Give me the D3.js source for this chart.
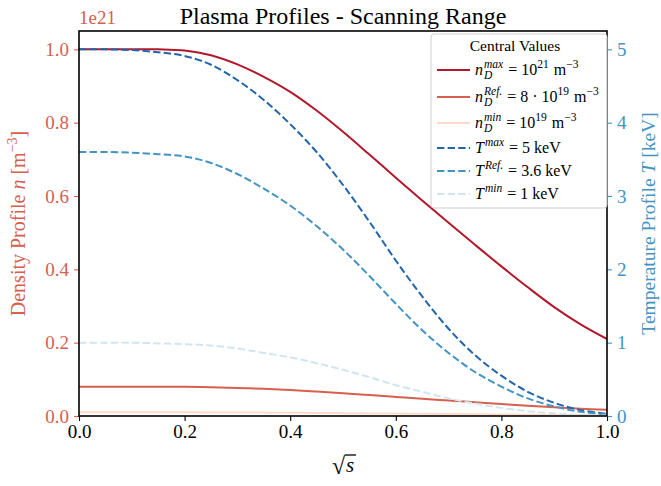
<!DOCTYPE html>
<html>
<head>
<meta charset="utf-8">
<script src="https://d3js.org/d3.v7.min.js"></script>
<style>
  body { margin: 0; background: white; }
  svg text { font-family: "Liberation Serif", "DejaVu Serif", serif; white-space: pre; }
</style>
</head>
<body>
<svg id="chart" width="661" height="486"></svg>
<script>
// sqrt(s) grid
var rho = [0, 0.05, 0.1, 0.15, 0.2, 0.25, 0.3, 0.35, 0.4, 0.45, 0.5, 0.55, 0.6, 0.65, 0.7, 0.75, 0.8, 0.85, 0.9, 0.95, 1.0];
// density profiles, units of 1e21 m^-3
var nMax = [1.0, 1.0, 1.0, 1.0, 0.997, 0.984, 0.959, 0.925, 0.884, 0.833, 0.775, 0.713, 0.65, 0.588, 0.527, 0.467, 0.408, 0.351, 0.297, 0.25, 0.21];
var nRef = [0.08, 0.08, 0.08, 0.08, 0.0798, 0.0787, 0.0767, 0.074, 0.0707, 0.0666, 0.062, 0.057, 0.052, 0.047, 0.0422, 0.0374, 0.0326, 0.0281, 0.0238, 0.02, 0.0168];
var nMin = [0.01, 0.01, 0.01, 0.01, 0.00997, 0.00984, 0.00959, 0.00925, 0.00884, 0.00833, 0.00775, 0.00713, 0.0065, 0.00588, 0.00527, 0.00467, 0.00408, 0.00351, 0.00297, 0.0025, 0.0021];
// temperature profiles, keV
var tMax = [5.0, 5.0, 4.99, 4.96, 4.91, 4.79, 4.58, 4.31, 3.98, 3.6, 3.15, 2.65, 2.12, 1.63, 1.19, 0.83, 0.55, 0.33, 0.18, 0.08, 0.03];
var tRef = [3.6, 3.6, 3.59, 3.57, 3.54, 3.45, 3.3, 3.1, 2.87, 2.59, 2.27, 1.91, 1.53, 1.17, 0.86, 0.6, 0.4, 0.24, 0.13, 0.058, 0.022];
var tMin = [1.0, 1.0, 1.0, 0.99, 0.98, 0.96, 0.92, 0.86, 0.8, 0.72, 0.63, 0.53, 0.42, 0.33, 0.24, 0.17, 0.11, 0.066, 0.036, 0.016, 0.006];

var xTicks = [0, 0.2, 0.4, 0.6, 0.8, 1.0];
var nTicks = [0, 0.2, 0.4, 0.6, 0.8, 1.0];
var tTicks = [0, 1, 2, 3, 4, 5];

var C = {nMax: "#b2182b", nRef: "#d6604d", nMin: "#fddbc7",
         tMax: "#2166ac", tRef: "#4393c3", tMin: "#d1e5f0"};

var pL = 79, pR = 607, pT = 31, pB = 416;
var svg = d3.select("#chart");

var x = d3.scaleLinear().domain([0, 1]).range([pL, pR]);
var yN = d3.scaleLinear().domain([0, 1.05]).range([pB, pT]);
var yT = d3.scaleLinear().domain([0, 5.25]).range([pB, pT]);

svg.append("clipPath").attr("id", "clip").append("rect")
  .attr("x", pL).attr("y", pT).attr("width", pR - pL).attr("height", pB - pT);

var plot = svg.append("g").attr("clip-path", "url(#clip)");

function drawLine(vals, yScale, color, dashed) {
  var line = d3.line()
    .x(function(d, i) { return x(rho[i]); })
    .y(function(d) { return yScale(d); })
    .curve(d3.curveCatmullRom.alpha(0.5));
  plot.append("path")
    .datum(vals)
    .attr("d", line)
    .attr("fill", "none")
    .attr("stroke", color)
    .attr("stroke-width", 2)
    .attr("stroke-dasharray", dashed ? "7.4,3.2" : null);
}

drawLine(nMax, yN, C.nMax, false);
drawLine(nRef, yN, C.nRef, false);
drawLine(nMin, yN, C.nMin, false);
drawLine(tMax, yT, C.tMax, true);
drawLine(tRef, yT, C.tRef, true);
drawLine(tMin, yT, C.tMin, true);

// axes
function styleAxis(g, color) {
  g.select(".domain").remove();
  g.selectAll("line").attr("stroke", color).attr("stroke-width", 1.1);
  g.selectAll("text").attr("fill", color).style("font-size", "19px")
    .style("font-family", "Liberation Serif");
}

var xAxis = svg.append("g").attr("transform", "translate(0," + pB + ")")
  .call(d3.axisBottom(x).tickValues(xTicks).tickFormat(d3.format(".1f")).tickSize(5).tickPadding(4));
styleAxis(xAxis, "#000");

var yAxisL = svg.append("g").attr("transform", "translate(" + pL + ",0)")
  .call(d3.axisLeft(yN).tickValues(nTicks).tickFormat(d3.format(".1f")).tickSize(5).tickPadding(5));
styleAxis(yAxisL, C.nRef);

var yAxisR = svg.append("g").attr("transform", "translate(" + pR + ",0)")
  .call(d3.axisRight(yT).tickValues(tTicks).tickFormat(d3.format("d")).tickSize(5).tickPadding(5));
styleAxis(yAxisR, C.tRef);

// frame
svg.append("rect").attr("x", pL).attr("y", pT)
  .attr("width", pR - pL).attr("height", pB - pT)
  .attr("fill", "none").attr("stroke", "#000").attr("stroke-width", 1.6);

// offset text
svg.append("text").attr("x", pL).attr("y", 24)
  .attr("fill", C.nRef).style("font-size", "19px").text("1e21");

// title
svg.append("text").attr("x", (pL + pR) / 2).attr("y", 24)
  .attr("text-anchor", "middle").style("font-size", "24px")
  .text("Plasma Profiles - Scanning Range");

// y labels
var yl = svg.append("text").attr("transform", "translate(25," + ((pT + pB) / 2) + ") rotate(-90)")
  .attr("text-anchor", "middle").attr("fill", C.nRef).style("font-size", "20px");
yl.append("tspan").text("Density Profile ");
yl.append("tspan").attr("font-style", "italic").text("n");
yl.append("tspan").text(" [m");
yl.append("tspan").attr("dy", -8).style("font-size", "14px").text("−3");
yl.append("tspan").attr("dy", 8).text("]");

var yr = svg.append("text").attr("transform", "translate(655," + ((pT + pB) / 2) + ") rotate(-90)")
  .attr("text-anchor", "middle").attr("fill", C.tRef).style("font-size", "19.5px");
yr.append("tspan").text("Temperature Profile ");
yr.append("tspan").attr("font-style", "italic").text("T");
yr.append("tspan").text(" [keV]");

// x label: sqrt(s)
var xl = svg.append("g").attr("transform", "translate(" + ((pL + pR) / 2 - 11) + ",474)");
xl.append("text").attr("x", 0).attr("y", 0).style("font-size", "24px").text("√");
xl.append("text").attr("x", 14).attr("y", -2).style("font-size", "21px").attr("font-style", "italic").text("s");
xl.append("line").attr("x1", 13).attr("x2", 24).attr("y1", -19).attr("y2", -19)
  .attr("stroke", "#000").attr("stroke-width", 1.3);

// legend
var lg = svg.append("g");
lg.append("rect").attr("x", 431).attr("y", 34).attr("width", 176).attr("height", 174)
  .attr("rx", 3).attr("fill", "white").attr("fill-opacity", 0.85)
  .attr("stroke", "#d0d0d0").attr("stroke-width", 1);
lg.append("text").attr("x", 515).attr("y", 51).attr("text-anchor", "middle")
  .style("font-size", "15.5px").text("Central Values");

var entries = [
  {color: C.nMax, dash: false, parts: [{t: "n", it: true}, {sup: "max", sub: "D"}, {t: " = 10"}, {sup: "21", up: true}, {t: " m"}, {sup: "−3", up: true}]},
  {color: C.nRef, dash: false, parts: [{t: "n", it: true}, {sup: "Ref.", sub: "D"}, {t: " = 8 · 10"}, {sup: "19", up: true}, {t: " m"}, {sup: "−3", up: true}]},
  {color: C.nMin, dash: false, parts: [{t: "n", it: true}, {sup: "min", sub: "D"}, {t: " = 10"}, {sup: "19", up: true}, {t: " m"}, {sup: "−3", up: true}]},
  {color: C.tMax, dash: true, parts: [{t: "T", it: true}, {sup: "max"}, {t: " = 5 keV"}]},
  {color: C.tRef, dash: true, parts: [{t: "T", it: true}, {sup: "Ref."}, {t: " = 3.6 keV"}]},
  {color: C.tMin, dash: true, parts: [{t: "T", it: true}, {sup: "min"}, {t: " = 1 keV"}]}
];
var rowY = [70, 97, 123, 148, 171, 194];

entries.forEach(function(e, i) {
  var cy = rowY[i];
  lg.append("line").attr("x1", 437).attr("x2", 470).attr("y1", cy).attr("y2", cy)
    .attr("stroke", e.color).attr("stroke-width", 2)
    .attr("stroke-dasharray", e.dash ? "7.4,3.2" : null);
  var cx = 475, base = cy + 5;
  e.parts.forEach(function(p) {
    if (p.t !== undefined) {
      var t = lg.append("text").attr("x", cx).attr("y", base).style("font-size", "16px")
        .attr("font-style", p.it ? "italic" : null).text(p.t);
      cx += t.node().getComputedTextLength() + (p.it ? 1 : 0);
    } else {
      var s = lg.append("text").attr("x", cx).attr("y", base - 7).style("font-size", "11.5px")
        .attr("font-style", p.up ? null : "italic").text(p.sup);
      var w = s.node().getComputedTextLength();
      if (p.sub) {
        var b = lg.append("text").attr("x", cx).attr("y", base + 4).style("font-size", "11.5px")
          .attr("font-style", "italic").text(p.sub);
        w = Math.max(w, b.node().getComputedTextLength());
      }
      cx += w + 1;
    }
  });
});
</script>
</body>
</html>
